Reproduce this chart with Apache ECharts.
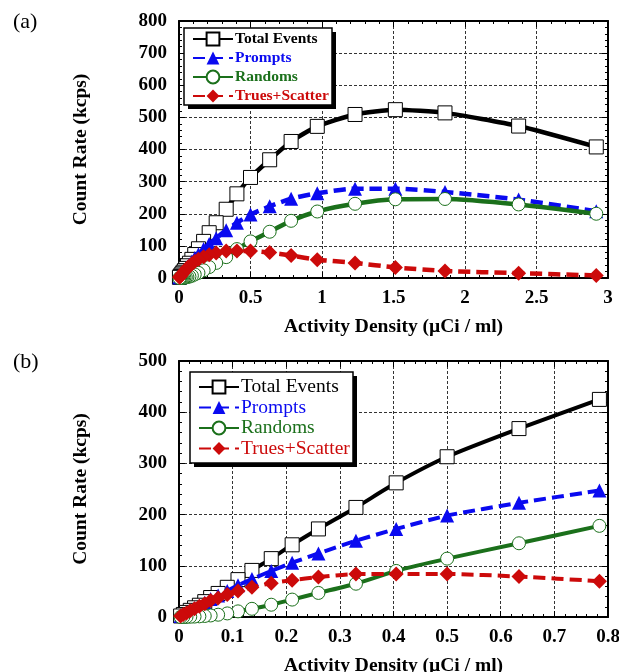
<!DOCTYPE html>
<html>
<head>
<meta charset="utf-8">
<script src="https://cdn.jsdelivr.net/npm/echarts@6/dist/echarts.min.js"></script>
<style>
  html, body { margin: 0; padding: 0; background: #fff; }
  #main { width: 619px; height: 672px; }
</style>
</head>
<body>
<div id="main"></div>
<script>
// activity density (uCi/ml), same acquisition frames in both panels
var activity = [2.918, 2.375, 1.860, 1.513, 1.231, 0.967, 0.784, 0.634, 0.500, 0.405, 0.330, 0.260, 0.211,
    0.172, 0.136, 0.110, 0.090, 0.073, 0.059, 0.048, 0.038, 0.029, 0.021, 0.014, 0.008, 0.003];
var totalEvents = [408, 473, 514, 524, 509, 472, 425, 368, 313, 262, 214, 172, 141,
    114, 91, 73, 58, 46, 38, 30, 23, 18, 13, 9, 5, 2];
var prompts = [208, 244, 268, 278, 278, 264, 247, 223, 198, 172, 149, 124, 106,
    90, 74, 62, 51, 42, 35, 28, 22, 17, 12.5, 8.5, 5, 2];
var randoms = [200, 229, 246, 245, 231, 207, 178, 144, 114, 90, 65, 47, 34,
    24, 16, 11, 7, 4.5, 3, 2, 1.3, 0.8, 0.5, 0.3, 0.1, 0];
var truesScatter = [8, 15, 22, 33, 47, 57, 70, 79, 84, 84, 84, 78, 72,
    66, 58, 51, 44, 37, 32, 26, 21, 16, 12, 8, 5, 2];

var seriesNames = ['Total Events', 'Prompts', 'Randoms', 'Trues+Scatter'];
var seriesColors = ['#000000', '#0a0af0', '#1b701b', '#cc0a0a'];

var serif = '"Liberation Serif", "DejaVu Serif", serif';

function pairs(vals, xmax) {
    var out = [];
    for (var i = 0; i < activity.length; i++) {
        if (activity[i] <= xmax + 0.01) out.push([activity[i], vals[i]]);
    }
    return out;
}

function xAxisOf(grid, max, interval, top) {
    return {
        type: 'value', gridIndex: grid, min: 0, max: max, interval: interval,
        position: top ? 'top' : 'bottom',
        name: top ? '' : 'Activity Density (\u00b5Ci / ml)',
        nameLocation: 'middle', nameGap: 39,
        nameTextStyle: { fontFamily: serif, fontWeight: 'bold', fontSize: 19.5, color: '#000' },
        axisLine: { show: true, onZero: false, lineStyle: { color: '#000', width: 2 } },
        axisTick: { show: true, inside: true, length: 6, lineStyle: { color: '#000', width: 1 } },
        minorTick: { show: true, splitNumber: 5, length: 3, lineStyle: { color: '#000' } },
        axisLabel: { show: !top, margin: 11, fontFamily: serif, fontWeight: 'bold', fontSize: 19, color: '#000' },
        splitLine: { show: !top, lineStyle: { color: '#333', type: [3, 2], width: 1 } }
    };
}

function yAxisOf(grid, max, right) {
    return {
        type: 'value', gridIndex: grid, min: 0, max: max, interval: 100,
        position: right ? 'right' : 'left',
        name: right ? '' : 'Count Rate (kcps)',
        nameLocation: 'middle', nameGap: 88, nameRotate: 90,
        nameTextStyle: { fontFamily: serif, fontWeight: 'bold', fontSize: 19.5, color: '#000' },
        axisLine: { show: true, onZero: false, lineStyle: { color: '#000', width: 2 } },
        axisTick: { show: true, inside: true, length: 6, lineStyle: { color: '#000', width: 1 } },
        minorTick: { show: true, splitNumber: 5, length: 3, lineStyle: { color: '#000' } },
        axisLabel: { show: !right, margin: 12, fontFamily: serif, fontWeight: 'bold', fontSize: 19, color: '#000' },
        splitLine: { show: !right, lineStyle: { color: '#333', type: [3, 2], width: 1 } }
    };
}

function seriesFor(grid, xmax) {
    var data = [totalEvents, prompts, randoms, truesScatter];
    var symbols = ['rect', 'triangle', 'circle', 'diamond'];
    var sizes = [14, 14, 13, 15];
    var out = [];
    for (var i = 0; i < 4; i++) {
        var hollow = (i === 0 || i === 2);
        out.push({
            name: seriesNames[i],
            type: 'line',
            xAxisIndex: grid * 2, yAxisIndex: grid * 2,
            data: pairs(data[i], xmax),
            smooth: 0.2,
            clip: false,
            symbol: symbols[i],
            symbolSize: sizes[i],
            showAllSymbol: true,
            lineStyle: { color: seriesColors[i], width: grid === 0 ? 4.5 : 4, type: (i % 2 === 1) ? [12, 6] : 'solid' },
            itemStyle: {
                color: hollow ? '#fff' : seriesColors[i],
                borderColor: seriesColors[i],
                borderWidth: hollow ? 1 : 0
            },
            z: 2 + i
        });
    }
    return out;
}

function legendFor(top, left, bold, size, lh, gap) {
    return {
        orient: 'vertical', left: left, top: top,
        data: seriesNames.map(function (n, i) {
            return { name: n, textStyle: { color: seriesColors[i] } };
        }),
        itemWidth: 40, itemHeight: 16, itemGap: gap,
        padding: 0,
        textStyle: { fontFamily: serif, fontWeight: bold ? 'bold' : 'normal', fontSize: size, lineHeight: lh, padding: [0, 0, 0, -3] },
        z: 20
    };
}

// box with hard black drop shadow behind each legend
function legendBox(x, y, w, h) {
    return [
        { type: 'rect', z: 15, shape: { x: x + 4, y: y + 4, width: w, height: h }, style: { fill: '#000' } },
        { type: 'rect', z: 16, shape: { x: x, y: y, width: w, height: h }, style: { fill: '#fff', stroke: '#000', lineWidth: 1.5 } }
    ];
}

var chart = echarts.init(document.getElementById('main'), null, { renderer: 'canvas' });

chart.setOption({
    animation: false,
    backgroundColor: '#fff',
    title: [
        { text: '(a)', left: 8, top: 6, textStyle: { fontFamily: serif, fontWeight: 'normal', fontSize: 22, color: '#000' } },
        { text: '(b)', left: 8, top: 346, textStyle: { fontFamily: serif, fontWeight: 'normal', fontSize: 22, color: '#000' } }
    ],
    grid: [
        { left: 179, top: 21, width: 429, height: 257, show: false, outerBoundsMode: 'none', containLabel: false },
        { left: 179, top: 361, width: 429, height: 256, show: false, outerBoundsMode: 'none', containLabel: false }
    ],
    graphic: legendBox(184, 28, 148, 77).concat(legendBox(190, 372, 163, 91)),
    legend: [
        legendFor(31, 192, true, 15.5, 16, 3),
        legendFor(377, 198, false, 19.5, 20, 0.5)
    ],
    xAxis: [xAxisOf(0, 3, 0.5, false), xAxisOf(0, 3, 0.5, true),
            xAxisOf(1, 0.8, 0.1, false), xAxisOf(1, 0.8, 0.1, true)],
    yAxis: [yAxisOf(0, 800, false), yAxisOf(0, 800, true),
            yAxisOf(1, 500, false), yAxisOf(1, 500, true)],
    series: seriesFor(0, 3).concat(seriesFor(1, 0.8))
});
</script>
</body>
</html>
